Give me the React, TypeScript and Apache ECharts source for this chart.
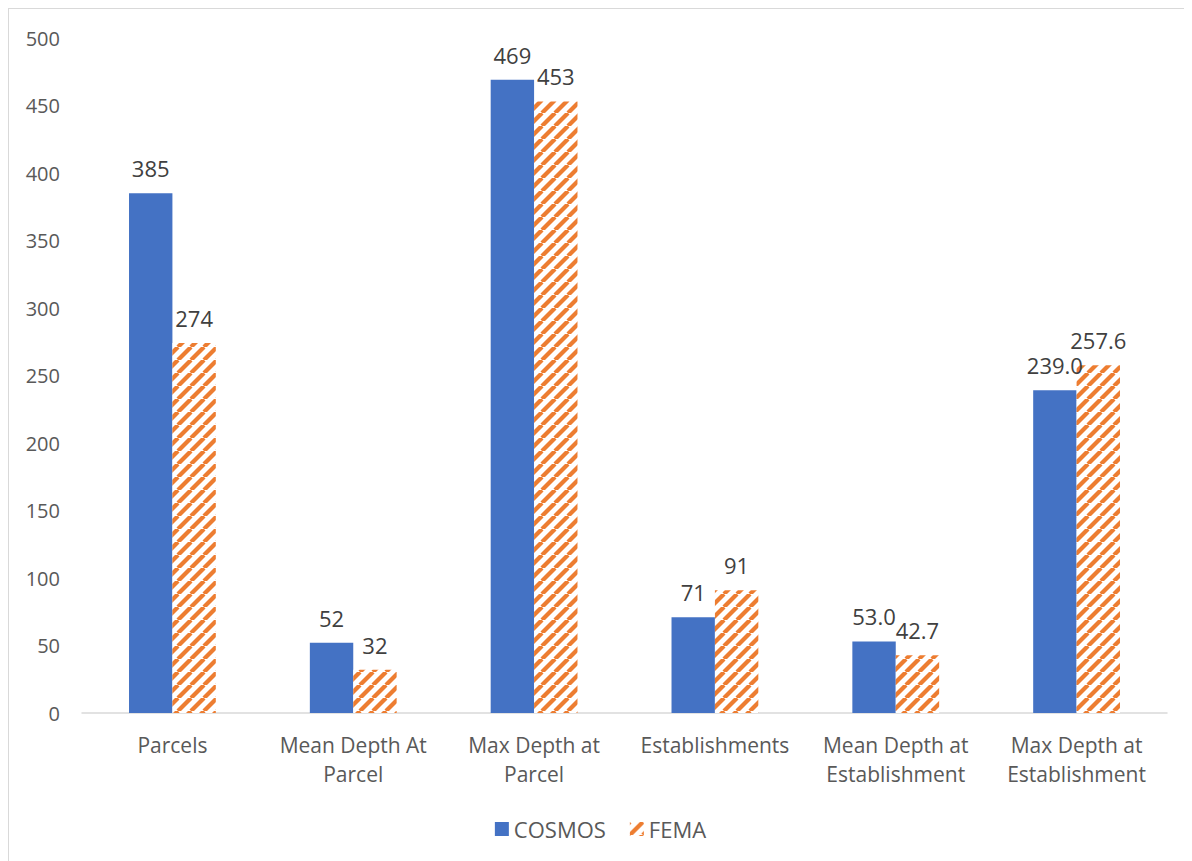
import React, { useEffect, useRef } from "react";
import * as echarts from "echarts";

const categories = [
  "Parcels",
  "Mean Depth At\nParcel",
  "Max Depth at\nParcel",
  "Establishments",
  "Mean Depth at\nEstablishment",
  "Max Depth at\nEstablishment",
];
const cosmos = [385, 52, 469, 71, 53.0, 239.0];
const fema = [274, 32, 453, 91, 42.7, 257.6];
const labelDecimals = [0, 0, 0, 0, 1, 1];

function makeStripes(): HTMLCanvasElement {
  const s = 13;
  const c = document.createElement("canvas");
  c.width = s;
  c.height = s;
  const ctx = c.getContext("2d")!;
  ctx.fillStyle = "#ffffff";
  ctx.fillRect(0, 0, s, s);
  ctx.strokeStyle = "#ED7D31";
  ctx.lineWidth = 4.2;
  for (let k = -1; k <= 1; k++) {
    ctx.beginPath();
    ctx.moveTo(k * s, s);
    ctx.lineTo(k * s + s, 0);
    ctx.stroke();
  }
  return c;
}

export default function App() {
  const ref = useRef<HTMLDivElement>(null);
  useEffect(() => {
    if (!ref.current) return;
    const chart = echarts.init(ref.current, undefined, { renderer: "svg" });
    const font = "'Open Sans', 'Liberation Sans', sans-serif";
    const labelFmt = (p: any) => Number(p.value).toFixed(labelDecimals[p.dataIndex]);
    const stripes = makeStripes();
    chart.setOption({
      animation: false,
      textStyle: { fontFamily: font },
      grid: { left: 73, right: 25, top: 29, bottom: 148, containLabel: false },
      legend: {
        bottom: 16,
        left: "center",
        icon: "rect",
        itemWidth: 14,
        itemHeight: 14,
        itemGap: 24,
        textStyle: { fontSize: 22, color: "#595959", fontFamily: font },
        data: ["COSMOS", "FEMA"],
      },
      xAxis: {
        type: "category",
        data: categories,
        axisLine: { lineStyle: { color: "#d9d9d9", width: 1.5 } },
        axisTick: { show: false },
        axisLabel: { fontSize: 21, color: "#595959", margin: 17, lineHeight: 29, interval: 0 },
      },
      yAxis: {
        type: "value",
        min: 0,
        max: 500,
        interval: 50,
        splitLine: { show: false },
        axisLine: { show: false },
        axisTick: { show: false },
        axisLabel: { fontSize: 20, color: "#595959", margin: 22 },
      },
      series: [
        {
          name: "COSMOS",
          type: "bar",
          data: cosmos,
          barWidth: "24%",
          barGap: "0%",
          itemStyle: { color: "#4472C4" },
          label: { show: true, position: "top", distance: 14, fontSize: 22, color: "#404040", formatter: labelFmt },
        },
        {
          name: "FEMA",
          type: "bar",
          data: fema,
          barWidth: "24%",
          itemStyle: {
            color: { image: stripes, repeat: "repeat" },
          },
          label: { show: true, position: "top", distance: 14, fontSize: 22, color: "#404040", formatter: labelFmt },
        },
      ],
    });
    return () => chart.dispose();
  }, []);
  return (
    <div
      style={{
        width: 1184,
        height: 853,
        borderLeft: "1px solid #d9d9d9",
        borderTop: "1px solid #d9d9d9",
        boxSizing: "border-box",
        overflow: "hidden",
      }}
    >
      <div ref={ref} style={{ width: 1183, height: 852 }} />
    </div>
  );
}
